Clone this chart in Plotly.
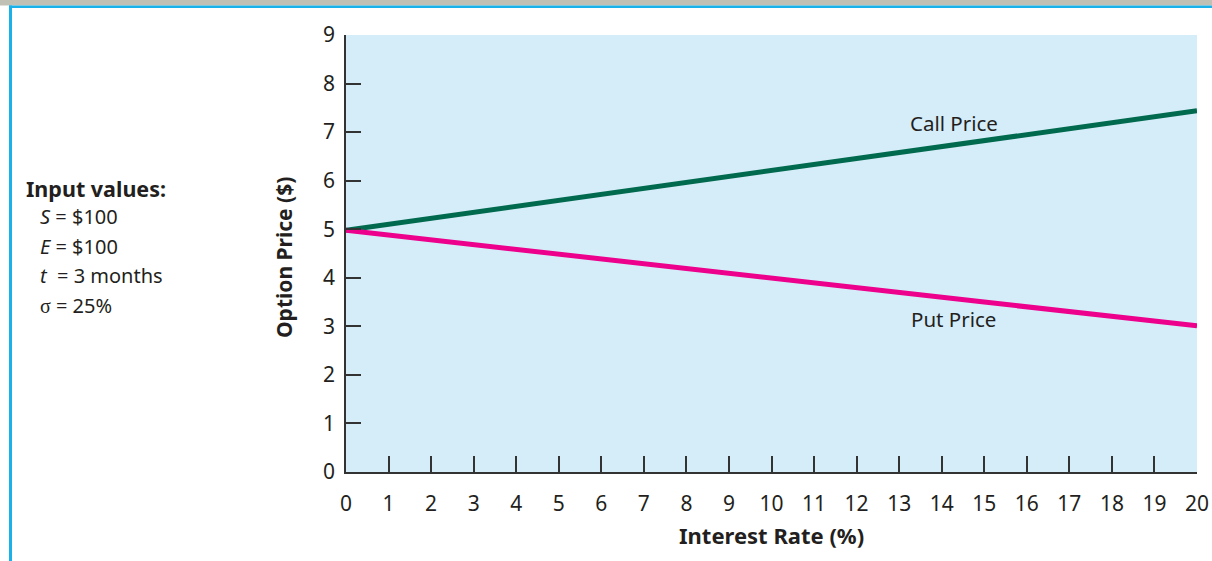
import plotly.graph_objects as go

# ---- data ----
interest_rate = [0, 5, 10, 15, 20]
call_price = [4.98, 5.59, 6.21, 6.83, 7.44]
put_price = [4.98, 4.48, 3.99, 3.50, 3.01]
x_ticks = list(range(0, 21))
y_ticks = list(range(0, 10))
input_lines = ["<i>S</i> = $100", "<i>E</i> = $100", "<i>t</i>  = 3 months",
               "<span style='font-family:Liberation Serif'>σ</span> = 25%"]

W_FIG, H_FIG = 1212, 561
L, R, T, B = 346, 15, 35, 89
PW = W_FIG - L - R
PH = H_FIG - T - B

def px(p):
    return (p - L) / PW

def py(p):
    return (H_FIG - B - p) / PH

TXT = "#231f20"
FONT = "Noto Sans"

fig = go.Figure()
fig.add_trace(go.Scatter(x=interest_rate, y=call_price, mode="lines",
                         line=dict(color="#006a4e", width=5), hoverinfo="skip"))
fig.add_trace(go.Scatter(x=interest_rate, y=put_price, mode="lines",
                         line=dict(color="#ec008c", width=5), hoverinfo="skip"))

axis_common = dict(showgrid=False, zeroline=False, showline=True, linecolor="#333333",
                   linewidth=1.5, ticks="inside", tickcolor="#333333", tickwidth=1.5,
                   automargin=False,
                   tickfont=dict(family=FONT, size=21, color=TXT))

fig.update_xaxes(range=[0, 20], tickvals=x_ticks, ticklen=16, ticklabelstandoff=12,
                 **axis_common)
fig.update_yaxes(range=[0, 9], tickvals=y_ticks, ticklen=15, ticklabelstandoff=5,
                 **axis_common)

shapes = [
    dict(type="rect", xref="paper", yref="paper", x0=px(0), x1=px(W_FIG), y0=py(0), y1=py(5.5),
         fillcolor="#c0c1b4", line=dict(width=0), layer="above"),
    dict(type="rect", xref="paper", yref="paper", x0=px(9), x1=px(W_FIG), y0=py(5.5), y1=py(8),
         fillcolor="#1ab0ea", line=dict(width=0), layer="above"),
    dict(type="rect", xref="paper", yref="paper", x0=px(9), x1=px(12), y0=py(5.5), y1=py(H_FIG),
         fillcolor="#1ab0ea", line=dict(width=0), layer="above"),
]

ann = []
ann.append(dict(text="<b>Option Price ($)</b>", xref="paper", yref="paper", x=px(284), y=py(258),
                xanchor="center", yanchor="middle", textangle=-90, showarrow=False,
                font=dict(family=FONT, size=21, color=TXT)))
ann.append(dict(text="<b>Interest Rate (%)</b>", xref="paper", yref="paper", x=px(771), y=py(535),
                xanchor="center", yanchor="middle", showarrow=False,
                font=dict(family=FONT, size=22, color=TXT)))
ann.append(dict(text="Call Price", x=14.29, y=7.19, showarrow=False,
                xanchor="center", yanchor="middle", font=dict(family=FONT, size=20.5, color=TXT)))
ann.append(dict(text="Put Price", x=14.27, y=3.15, showarrow=False,
                xanchor="center", yanchor="middle", font=dict(family=FONT, size=20.5, color=TXT)))
ann.append(dict(text="<b>Input values:</b>", xref="paper", yref="paper", x=px(24), y=py(188),
                xanchor="left", yanchor="middle", showarrow=False,
                font=dict(family=FONT, size=21.5, color=TXT)))
for i, line in enumerate(input_lines):
    ann.append(dict(text=line, xref="paper", yref="paper", x=px(38), y=py(216.5 + 29.5 * i),
                    xanchor="left", yanchor="middle", showarrow=False,
                    font=dict(family=FONT, size=20, color=TXT)))

fig.update_layout(width=W_FIG, height=H_FIG, margin=dict(l=L, r=R, t=T, b=B),
                  paper_bgcolor="white", plot_bgcolor="#d5ecf9", showlegend=False,
                  shapes=shapes, annotations=ann)

fig.write_html("out.html", config={"displayModeBar": False},
               post_script="document.body.style.margin='0';document.body.style.overflow='hidden';")
